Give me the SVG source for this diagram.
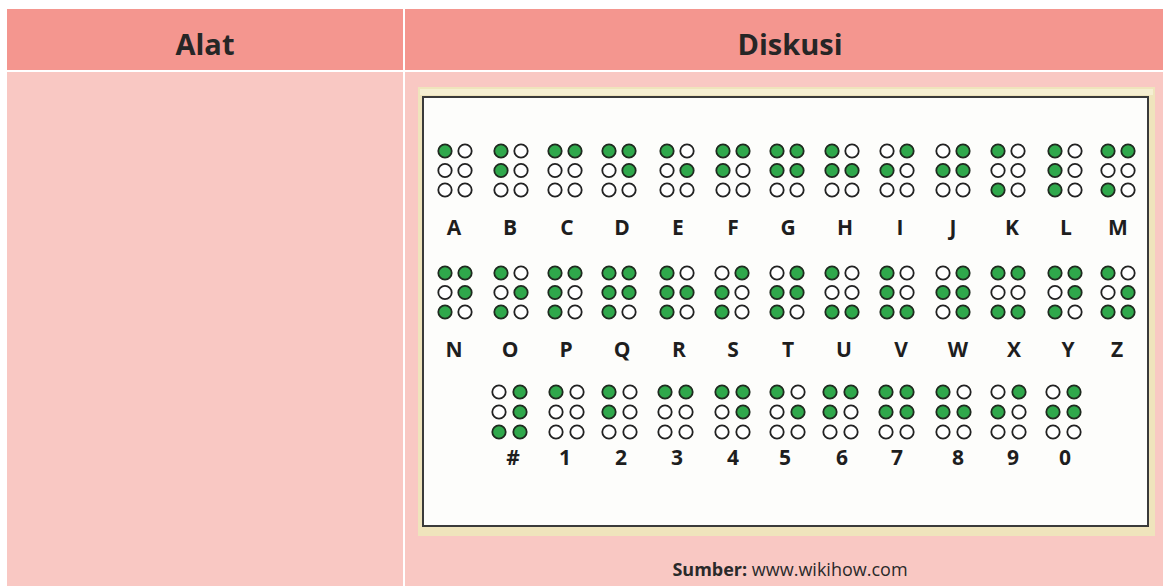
<svg xmlns="http://www.w3.org/2000/svg" width="1163" height="586" viewBox="0 0 1163 586">
<style>
.hd{fill:#F4968F}
.bd{fill:#F9C8C3}
.ht{font-family:"Open Sans","Liberation Sans",sans-serif;font-weight:700;font-size:29px;fill:#262626;text-anchor:middle}
.lb{font-family:"Open Sans","Liberation Sans",sans-serif;font-weight:700;font-size:21px;fill:#1e1e1e;text-anchor:middle}
.src{font-family:"Open Sans","Liberation Sans",sans-serif;font-size:18px;fill:#2a2a2a;text-anchor:middle}
.f{fill:#2FA84B;stroke:#1f2a1f;stroke-width:1.8}
.e{fill:#ffffff;stroke:#222;stroke-width:1.8}
</style>
<rect x="0" y="0" width="1163" height="586" fill="#ffffff"/>
<g id="table">
<rect class="hd" x="7" y="9" width="396" height="61"/>
<rect class="hd" x="405" y="9" width="758" height="61"/>
<rect class="bd" x="7" y="72" width="396" height="514"/>
<rect class="bd" x="405" y="72" width="758" height="514"/>
<text class="ht" x="205" y="55">Alat</text>
<text class="ht" x="790" y="55">Diskusi</text>
</g>
<g id="frame">
<rect x="418" y="87" width="737" height="449" fill="#EFE4BC"/>
<rect x="420" y="89" width="733" height="6" fill="#F6EFD2"/>
<rect x="423" y="97" width="725" height="429" fill="#FDFDFB" stroke="#3a3a3a" stroke-width="2"/>
</g>
<g id="cells">
<g id="cell-A"><g transform="translate(445,151)"><circle class="f" cx="0" cy="0" r="6.7"/><circle class="e" cx="0" cy="19.5" r="6.7"/><circle class="e" cx="0" cy="39" r="6.7"/><circle class="e" cx="20" cy="0" r="6.7"/><circle class="e" cx="20" cy="19.5" r="6.7"/><circle class="e" cx="20" cy="39" r="6.7"/></g><text class="lb" x="454" y="235">A</text></g>
<g id="cell-B"><g transform="translate(501,151)"><circle class="f" cx="0" cy="0" r="6.7"/><circle class="f" cx="0" cy="19.5" r="6.7"/><circle class="e" cx="0" cy="39" r="6.7"/><circle class="e" cx="20" cy="0" r="6.7"/><circle class="e" cx="20" cy="19.5" r="6.7"/><circle class="e" cx="20" cy="39" r="6.7"/></g><text class="lb" x="510" y="235">B</text></g>
<g id="cell-C"><g transform="translate(555,151)"><circle class="f" cx="0" cy="0" r="6.7"/><circle class="e" cx="0" cy="19.5" r="6.7"/><circle class="e" cx="0" cy="39" r="6.7"/><circle class="f" cx="20" cy="0" r="6.7"/><circle class="e" cx="20" cy="19.5" r="6.7"/><circle class="e" cx="20" cy="39" r="6.7"/></g><text class="lb" x="567" y="235">C</text></g>
<g id="cell-D"><g transform="translate(609,151)"><circle class="f" cx="0" cy="0" r="6.7"/><circle class="e" cx="0" cy="19.5" r="6.7"/><circle class="e" cx="0" cy="39" r="6.7"/><circle class="f" cx="20" cy="0" r="6.7"/><circle class="f" cx="20" cy="19.5" r="6.7"/><circle class="e" cx="20" cy="39" r="6.7"/></g><text class="lb" x="622" y="235">D</text></g>
<g id="cell-E"><g transform="translate(667,151)"><circle class="f" cx="0" cy="0" r="6.7"/><circle class="e" cx="0" cy="19.5" r="6.7"/><circle class="e" cx="0" cy="39" r="6.7"/><circle class="e" cx="20" cy="0" r="6.7"/><circle class="f" cx="20" cy="19.5" r="6.7"/><circle class="e" cx="20" cy="39" r="6.7"/></g><text class="lb" x="678" y="235">E</text></g>
<g id="cell-F"><g transform="translate(723,151)"><circle class="f" cx="0" cy="0" r="6.7"/><circle class="f" cx="0" cy="19.5" r="6.7"/><circle class="e" cx="0" cy="39" r="6.7"/><circle class="f" cx="20" cy="0" r="6.7"/><circle class="e" cx="20" cy="19.5" r="6.7"/><circle class="e" cx="20" cy="39" r="6.7"/></g><text class="lb" x="733" y="235">F</text></g>
<g id="cell-G"><g transform="translate(777,151)"><circle class="f" cx="0" cy="0" r="6.7"/><circle class="f" cx="0" cy="19.5" r="6.7"/><circle class="e" cx="0" cy="39" r="6.7"/><circle class="f" cx="20" cy="0" r="6.7"/><circle class="f" cx="20" cy="19.5" r="6.7"/><circle class="e" cx="20" cy="39" r="6.7"/></g><text class="lb" x="788" y="235">G</text></g>
<g id="cell-H"><g transform="translate(832,151)"><circle class="f" cx="0" cy="0" r="6.7"/><circle class="f" cx="0" cy="19.5" r="6.7"/><circle class="e" cx="0" cy="39" r="6.7"/><circle class="e" cx="20" cy="0" r="6.7"/><circle class="f" cx="20" cy="19.5" r="6.7"/><circle class="e" cx="20" cy="39" r="6.7"/></g><text class="lb" x="845" y="235">H</text></g>
<g id="cell-I"><g transform="translate(887,151)"><circle class="e" cx="0" cy="0" r="6.7"/><circle class="f" cx="0" cy="19.5" r="6.7"/><circle class="e" cx="0" cy="39" r="6.7"/><circle class="f" cx="20" cy="0" r="6.7"/><circle class="e" cx="20" cy="19.5" r="6.7"/><circle class="e" cx="20" cy="39" r="6.7"/></g><text class="lb" x="900" y="235">I</text></g>
<g id="cell-J"><g transform="translate(943,151)"><circle class="e" cx="0" cy="0" r="6.7"/><circle class="f" cx="0" cy="19.5" r="6.7"/><circle class="e" cx="0" cy="39" r="6.7"/><circle class="f" cx="20" cy="0" r="6.7"/><circle class="f" cx="20" cy="19.5" r="6.7"/><circle class="e" cx="20" cy="39" r="6.7"/></g><text class="lb" x="953" y="235">J</text></g>
<g id="cell-K"><g transform="translate(998,151)"><circle class="f" cx="0" cy="0" r="6.7"/><circle class="e" cx="0" cy="19.5" r="6.7"/><circle class="f" cx="0" cy="39" r="6.7"/><circle class="e" cx="20" cy="0" r="6.7"/><circle class="e" cx="20" cy="19.5" r="6.7"/><circle class="e" cx="20" cy="39" r="6.7"/></g><text class="lb" x="1012" y="235">K</text></g>
<g id="cell-L"><g transform="translate(1055,151)"><circle class="f" cx="0" cy="0" r="6.7"/><circle class="f" cx="0" cy="19.5" r="6.7"/><circle class="f" cx="0" cy="39" r="6.7"/><circle class="e" cx="20" cy="0" r="6.7"/><circle class="e" cx="20" cy="19.5" r="6.7"/><circle class="e" cx="20" cy="39" r="6.7"/></g><text class="lb" x="1066" y="235">L</text></g>
<g id="cell-M"><g transform="translate(1108,151)"><circle class="f" cx="0" cy="0" r="6.7"/><circle class="e" cx="0" cy="19.5" r="6.7"/><circle class="f" cx="0" cy="39" r="6.7"/><circle class="f" cx="20" cy="0" r="6.7"/><circle class="e" cx="20" cy="19.5" r="6.7"/><circle class="e" cx="20" cy="39" r="6.7"/></g><text class="lb" x="1118" y="235">M</text></g>

<g id="cell-N"><g transform="translate(445,273)"><circle class="f" cx="0" cy="0" r="6.7"/><circle class="e" cx="0" cy="19.5" r="6.7"/><circle class="f" cx="0" cy="39" r="6.7"/><circle class="f" cx="20" cy="0" r="6.7"/><circle class="f" cx="20" cy="19.5" r="6.7"/><circle class="e" cx="20" cy="39" r="6.7"/></g><text class="lb" x="454" y="357">N</text></g>
<g id="cell-O"><g transform="translate(501,273)"><circle class="f" cx="0" cy="0" r="6.7"/><circle class="e" cx="0" cy="19.5" r="6.7"/><circle class="f" cx="0" cy="39" r="6.7"/><circle class="e" cx="20" cy="0" r="6.7"/><circle class="f" cx="20" cy="19.5" r="6.7"/><circle class="e" cx="20" cy="39" r="6.7"/></g><text class="lb" x="510" y="357">O</text></g>
<g id="cell-P"><g transform="translate(555,273)"><circle class="f" cx="0" cy="0" r="6.7"/><circle class="f" cx="0" cy="19.5" r="6.7"/><circle class="f" cx="0" cy="39" r="6.7"/><circle class="f" cx="20" cy="0" r="6.7"/><circle class="e" cx="20" cy="19.5" r="6.7"/><circle class="e" cx="20" cy="39" r="6.7"/></g><text class="lb" x="566" y="357">P</text></g>
<g id="cell-Q"><g transform="translate(609,273)"><circle class="f" cx="0" cy="0" r="6.7"/><circle class="f" cx="0" cy="19.5" r="6.7"/><circle class="f" cx="0" cy="39" r="6.7"/><circle class="f" cx="20" cy="0" r="6.7"/><circle class="f" cx="20" cy="19.5" r="6.7"/><circle class="e" cx="20" cy="39" r="6.7"/></g><text class="lb" x="622" y="357">Q</text></g>
<g id="cell-R"><g transform="translate(667,273)"><circle class="f" cx="0" cy="0" r="6.7"/><circle class="f" cx="0" cy="19.5" r="6.7"/><circle class="f" cx="0" cy="39" r="6.7"/><circle class="e" cx="20" cy="0" r="6.7"/><circle class="f" cx="20" cy="19.5" r="6.7"/><circle class="e" cx="20" cy="39" r="6.7"/></g><text class="lb" x="679" y="357">R</text></g>
<g id="cell-S"><g transform="translate(722,273)"><circle class="e" cx="0" cy="0" r="6.7"/><circle class="f" cx="0" cy="19.5" r="6.7"/><circle class="f" cx="0" cy="39" r="6.7"/><circle class="f" cx="20" cy="0" r="6.7"/><circle class="e" cx="20" cy="19.5" r="6.7"/><circle class="e" cx="20" cy="39" r="6.7"/></g><text class="lb" x="733" y="357">S</text></g>
<g id="cell-T"><g transform="translate(777,273)"><circle class="e" cx="0" cy="0" r="6.7"/><circle class="f" cx="0" cy="19.5" r="6.7"/><circle class="f" cx="0" cy="39" r="6.7"/><circle class="f" cx="20" cy="0" r="6.7"/><circle class="f" cx="20" cy="19.5" r="6.7"/><circle class="e" cx="20" cy="39" r="6.7"/></g><text class="lb" x="788" y="357">T</text></g>
<g id="cell-U"><g transform="translate(832,273)"><circle class="f" cx="0" cy="0" r="6.7"/><circle class="e" cx="0" cy="19.5" r="6.7"/><circle class="f" cx="0" cy="39" r="6.7"/><circle class="e" cx="20" cy="0" r="6.7"/><circle class="e" cx="20" cy="19.5" r="6.7"/><circle class="f" cx="20" cy="39" r="6.7"/></g><text class="lb" x="844" y="357">U</text></g>
<g id="cell-V"><g transform="translate(887,273)"><circle class="f" cx="0" cy="0" r="6.7"/><circle class="f" cx="0" cy="19.5" r="6.7"/><circle class="f" cx="0" cy="39" r="6.7"/><circle class="e" cx="20" cy="0" r="6.7"/><circle class="e" cx="20" cy="19.5" r="6.7"/><circle class="f" cx="20" cy="39" r="6.7"/></g><text class="lb" x="901" y="357">V</text></g>
<g id="cell-W"><g transform="translate(943,273)"><circle class="e" cx="0" cy="0" r="6.7"/><circle class="f" cx="0" cy="19.5" r="6.7"/><circle class="e" cx="0" cy="39" r="6.7"/><circle class="f" cx="20" cy="0" r="6.7"/><circle class="f" cx="20" cy="19.5" r="6.7"/><circle class="f" cx="20" cy="39" r="6.7"/></g><text class="lb" x="958" y="357">W</text></g>
<g id="cell-X"><g transform="translate(998,273)"><circle class="f" cx="0" cy="0" r="6.7"/><circle class="e" cx="0" cy="19.5" r="6.7"/><circle class="f" cx="0" cy="39" r="6.7"/><circle class="f" cx="20" cy="0" r="6.7"/><circle class="e" cx="20" cy="19.5" r="6.7"/><circle class="f" cx="20" cy="39" r="6.7"/></g><text class="lb" x="1014" y="357">X</text></g>
<g id="cell-Y"><g transform="translate(1055,273)"><circle class="f" cx="0" cy="0" r="6.7"/><circle class="e" cx="0" cy="19.5" r="6.7"/><circle class="f" cx="0" cy="39" r="6.7"/><circle class="f" cx="20" cy="0" r="6.7"/><circle class="f" cx="20" cy="19.5" r="6.7"/><circle class="e" cx="20" cy="39" r="6.7"/></g><text class="lb" x="1068" y="357">Y</text></g>
<g id="cell-Z"><g transform="translate(1108,273)"><circle class="f" cx="0" cy="0" r="6.7"/><circle class="e" cx="0" cy="19.5" r="6.7"/><circle class="f" cx="0" cy="39" r="6.7"/><circle class="e" cx="20" cy="0" r="6.7"/><circle class="f" cx="20" cy="19.5" r="6.7"/><circle class="f" cx="20" cy="39" r="6.7"/></g><text class="lb" x="1117" y="357">Z</text></g>

<g id="cell-hash"><g transform="translate(499,392)"><circle class="e" cx="0" cy="0" r="6.7"/><circle class="e" cx="0" cy="20" r="6.7"/><circle class="f" cx="0" cy="40" r="6.7"/><circle class="f" cx="21" cy="0" r="6.7"/><circle class="f" cx="21" cy="20" r="6.7"/><circle class="f" cx="21" cy="40" r="6.7"/></g><text class="lb" x="513" y="465">#</text></g>
<g id="cell-1"><g transform="translate(556,392)"><circle class="f" cx="0" cy="0" r="6.7"/><circle class="e" cx="0" cy="20" r="6.7"/><circle class="e" cx="0" cy="40" r="6.7"/><circle class="e" cx="21" cy="0" r="6.7"/><circle class="e" cx="21" cy="20" r="6.7"/><circle class="e" cx="21" cy="40" r="6.7"/></g><text class="lb" x="565" y="465">1</text></g>
<g id="cell-2"><g transform="translate(609,392)"><circle class="f" cx="0" cy="0" r="6.7"/><circle class="f" cx="0" cy="20" r="6.7"/><circle class="e" cx="0" cy="40" r="6.7"/><circle class="e" cx="21" cy="0" r="6.7"/><circle class="e" cx="21" cy="20" r="6.7"/><circle class="e" cx="21" cy="40" r="6.7"/></g><text class="lb" x="621" y="465">2</text></g>
<g id="cell-3"><g transform="translate(665,392)"><circle class="f" cx="0" cy="0" r="6.7"/><circle class="e" cx="0" cy="20" r="6.7"/><circle class="e" cx="0" cy="40" r="6.7"/><circle class="f" cx="21" cy="0" r="6.7"/><circle class="e" cx="21" cy="20" r="6.7"/><circle class="e" cx="21" cy="40" r="6.7"/></g><text class="lb" x="677" y="465">3</text></g>
<g id="cell-4"><g transform="translate(722,392)"><circle class="f" cx="0" cy="0" r="6.7"/><circle class="e" cx="0" cy="20" r="6.7"/><circle class="e" cx="0" cy="40" r="6.7"/><circle class="f" cx="21" cy="0" r="6.7"/><circle class="f" cx="21" cy="20" r="6.7"/><circle class="e" cx="21" cy="40" r="6.7"/></g><text class="lb" x="733" y="465">4</text></g>
<g id="cell-5"><g transform="translate(777,392)"><circle class="f" cx="0" cy="0" r="6.7"/><circle class="e" cx="0" cy="20" r="6.7"/><circle class="e" cx="0" cy="40" r="6.7"/><circle class="e" cx="21" cy="0" r="6.7"/><circle class="f" cx="21" cy="20" r="6.7"/><circle class="e" cx="21" cy="40" r="6.7"/></g><text class="lb" x="785" y="465">5</text></g>
<g id="cell-6"><g transform="translate(830,392)"><circle class="f" cx="0" cy="0" r="6.7"/><circle class="f" cx="0" cy="20" r="6.7"/><circle class="e" cx="0" cy="40" r="6.7"/><circle class="f" cx="21" cy="0" r="6.7"/><circle class="e" cx="21" cy="20" r="6.7"/><circle class="e" cx="21" cy="40" r="6.7"/></g><text class="lb" x="842" y="465">6</text></g>
<g id="cell-7"><g transform="translate(886,392)"><circle class="f" cx="0" cy="0" r="6.7"/><circle class="f" cx="0" cy="20" r="6.7"/><circle class="e" cx="0" cy="40" r="6.7"/><circle class="f" cx="21" cy="0" r="6.7"/><circle class="f" cx="21" cy="20" r="6.7"/><circle class="e" cx="21" cy="40" r="6.7"/></g><text class="lb" x="897" y="465">7</text></g>
<g id="cell-8"><g transform="translate(943,392)"><circle class="f" cx="0" cy="0" r="6.7"/><circle class="f" cx="0" cy="20" r="6.7"/><circle class="e" cx="0" cy="40" r="6.7"/><circle class="e" cx="21" cy="0" r="6.7"/><circle class="f" cx="21" cy="20" r="6.7"/><circle class="e" cx="21" cy="40" r="6.7"/></g><text class="lb" x="958" y="465">8</text></g>
<g id="cell-9"><g transform="translate(998,392)"><circle class="e" cx="0" cy="0" r="6.7"/><circle class="f" cx="0" cy="20" r="6.7"/><circle class="e" cx="0" cy="40" r="6.7"/><circle class="f" cx="21" cy="0" r="6.7"/><circle class="e" cx="21" cy="20" r="6.7"/><circle class="e" cx="21" cy="40" r="6.7"/></g><text class="lb" x="1013" y="465">9</text></g>
<g id="cell-0"><g transform="translate(1053,392)"><circle class="e" cx="0" cy="0" r="6.7"/><circle class="f" cx="0" cy="20" r="6.7"/><circle class="e" cx="0" cy="40" r="6.7"/><circle class="f" cx="21" cy="0" r="6.7"/><circle class="f" cx="21" cy="20" r="6.7"/><circle class="e" cx="21" cy="40" r="6.7"/></g><text class="lb" x="1065" y="465">0</text></g>
</g>
<g id="source">
<text class="src" x="790" y="576"><tspan font-weight="700">Sumber:</tspan> www.wikihow.com</text>
</g>
</svg>
